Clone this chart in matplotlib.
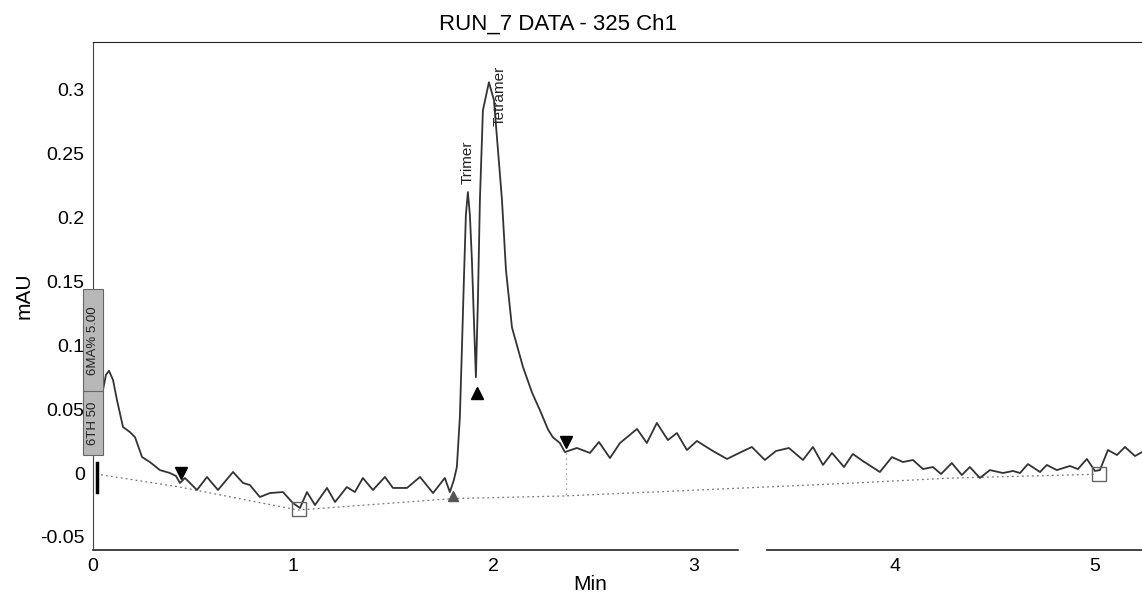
import matplotlib
matplotlib.use("Agg")
import matplotlib.pyplot as plt
from matplotlib.patches import Rectangle

# chromatogram trace (min, mAU)
time_min = [0.0, 0.035, 0.050, 0.065, 0.080, 0.100, 0.120, 0.150, 0.185, 0.210,
            0.245, 0.284, 0.334, 0.384, 0.414, 0.434, 0.459, 0.484, 0.519, 0.569,
            0.594, 0.624, 0.699, 0.749, 0.783, 0.833, 0.883, 0.948, 0.998, 1.033,
            1.068, 1.108, 1.168, 1.208, 1.267, 1.307, 1.347, 1.397, 1.457, 1.497,
            1.567, 1.632, 1.697, 1.756, 1.781, 1.801, 1.816, 1.831, 1.841, 1.851,
            1.861, 1.871, 1.881, 1.891, 1.901, 1.911, 1.921, 1.931, 1.946, 1.976,
            2.001, 2.021, 2.041, 2.061, 2.091, 2.146, 2.191, 2.231, 2.271, 2.295,
            2.330, 2.355, 2.415, 2.480, 2.525, 2.580, 2.630, 2.715, 2.764, 2.814,
            2.869, 2.914, 2.964, 3.014, 3.094, 3.164, 3.234, 3.288, 3.353, 3.408,
            3.473, 3.543, 3.593, 3.643, 3.688, 3.748, 3.792, 3.842, 3.927, 3.987,
            4.042, 4.092, 4.142, 4.192, 4.232, 4.286, 4.336, 4.376, 4.426, 4.476,
            4.541, 4.591, 4.626, 4.666, 4.726, 4.760, 4.810, 4.875, 4.915, 4.960,
            5.000, 5.025, 5.065, 5.110, 5.150, 5.200, 5.235]
signal = [0.026, 0.049, 0.065, 0.077, 0.080, 0.073, 0.057, 0.036, 0.032, 0.028,
          0.0125, 0.0086, 0.0023, 0.0, -0.0023, -0.0078, -0.0039, -0.0078, -0.0133, -0.0031,
          -0.0078, -0.0133, 0.0008, -0.0078, -0.0094, -0.0188, -0.0157, -0.0149, -0.0235, -0.0274,
          -0.0149, -0.0251, -0.0117, -0.0227, -0.0110, -0.0149, -0.0039, -0.0133, -0.0031, -0.0117,
          -0.0117, -0.0031, -0.0157, -0.0039, -0.0149, -0.0055, 0.0047, 0.0439, 0.0963, 0.151,
          0.202, 0.220, 0.202, 0.167, 0.120, 0.075, 0.135, 0.214, 0.284, 0.306,
          0.292, 0.253, 0.214, 0.159, 0.114, 0.083, 0.063, 0.049, 0.034, 0.028,
          0.0235, 0.0164, 0.0196, 0.0157, 0.0243, 0.0117, 0.0235, 0.0345, 0.0235, 0.0392,
          0.0258, 0.0313, 0.0180, 0.0251, 0.0172, 0.0110, 0.0164, 0.0204, 0.0102, 0.0172,
          0.0196, 0.0102, 0.0204, 0.0063, 0.0157, 0.0047, 0.0149, 0.0094, 0.0008, 0.0125,
          0.0086, 0.0102, 0.0031, 0.0047, -0.0008, 0.0078, -0.0016, 0.0047, -0.0039, 0.0023,
          0.0, 0.0016, 0.0, 0.0070, 0.0008, 0.0063, 0.0023, 0.0055, 0.0031, 0.0110,
          0.0016, 0.0023, 0.0180, 0.0141, 0.0204, 0.0133, 0.0164]

# integration baseline
base_t = [0.015, 0.434, 1.023, 1.796, 2.345, 2.779, 3.777, 4.276, 5.000]
base_y = [-0.0008, -0.011, -0.029, -0.020, -0.018, -0.015, -0.008, -0.004, -0.001]

peak_names = ["Trimer", "Tetramer"]
label_t = [1.871, 2.03]
label_y = [0.226, 0.272]

yticks = [-0.05, 0, 0.05, 0.1, 0.15, 0.2, 0.25, 0.3]
ytick_labels = ["-0.05", "0", "0.05", "0.1", "0.15", "0.2", "0.25", "0.3"]
xticks = [0, 1, 2, 3, 4, 5]

plt.rcParams['font.family'] = ['Liberation Sans', 'DejaVu Sans']

fig = plt.figure(figsize=(11.42, 6.0), dpi=100)
ax = fig.add_axes([0.0814, 0.0833, 0.9186, 0.8467])

ax.plot(time_min, signal, color='#333333', lw=1.3, solid_joinstyle='round', zorder=3)
ax.plot(base_t, base_y, color='#777777', lw=0.9, ls=(0, (1.5, 2.5)), zorder=2)

# vertical drop line at peak end
ax.plot([2.36, 2.36], [0.016, -0.018], color='#888888', lw=0.9, ls=(0, (1, 3)))

# peak event markers
ax.plot([0.44], [0.0], marker='v', color='black', ms=9, ls='none', zorder=4)
ax.plot([2.36], [0.024], marker='v', color='black', ms=9, ls='none', zorder=4)
ax.plot([1.916], [0.063], marker='^', color='black', ms=8, ls='none', zorder=4)
ax.plot([1.795], [-0.018], marker='^', color='#555555', ms=7, ls='none', zorder=4)
ax.plot([0.02, 0.02], [0.008, -0.015], color='black', lw=2.5, zorder=4)

# open squares at baseline ends
ax.plot([1.03, 5.02], [-0.0285, -0.0005], marker='s', mfc='none', mec='#666666',
        ms=10, ls='none', zorder=4)

for name, t, y in zip(peak_names, label_t, label_y):
    ax.text(t, y, name, rotation=90, ha='center', va='bottom',
            fontsize=11, color='#222222')

# gray event box at run start
box = Rectangle((-0.052, 0.014), 0.10, 0.130, facecolor='#b8b8b8', edgecolor='#666666',
                lw=0.8, clip_on=False, zorder=6)
ax.add_patch(box)
ax.plot([-0.052, 0.048], [0.064, 0.064], color='#666666', lw=0.8, clip_on=False, zorder=7)
ax.text(-0.002, 0.039, "6TH 50", rotation=90, ha='center', va='center', fontsize=9.5,
        color='#222222', clip_on=False, zorder=7)
ax.text(-0.002, 0.104, "6MA% 5.00", rotation=90, ha='center', va='center', fontsize=9.5,
        color='#222222', clip_on=False, zorder=7)

ax.set_xlim(0, 5.235)
ax.set_ylim(-0.0603, 0.3375)
ax.set_xticks(xticks)
ax.set_yticks(yticks)
ax.set_yticklabels(ytick_labels)
ax.tick_params(length=0, labelsize=14, pad=6)

ax.spines['right'].set_visible(False)
ax.spines['bottom'].set_visible(False)
ax.spines['left'].set_color('#444444')
ax.spines['top'].set_color('#222222')
# bottom axis line has a break in the scan
ax.axhline(-0.0603, xmin=0.0, xmax=0.615, color='#222222', lw=1.2, clip_on=False)
ax.axhline(-0.0603, xmin=0.643, xmax=1.0, color='#222222', lw=1.2, clip_on=False)

ax.set_xlabel("Min", fontsize=15, labelpad=2)
ax.xaxis.set_label_coords(0.474, -0.05)
ax.set_ylabel("mAU", fontsize=15, labelpad=5)
fig.text(0.489, 0.978, "RUN_7 DATA - 325 Ch1", ha='center', va='top', fontsize=16)

fig.savefig("out.png", dpi=100)
